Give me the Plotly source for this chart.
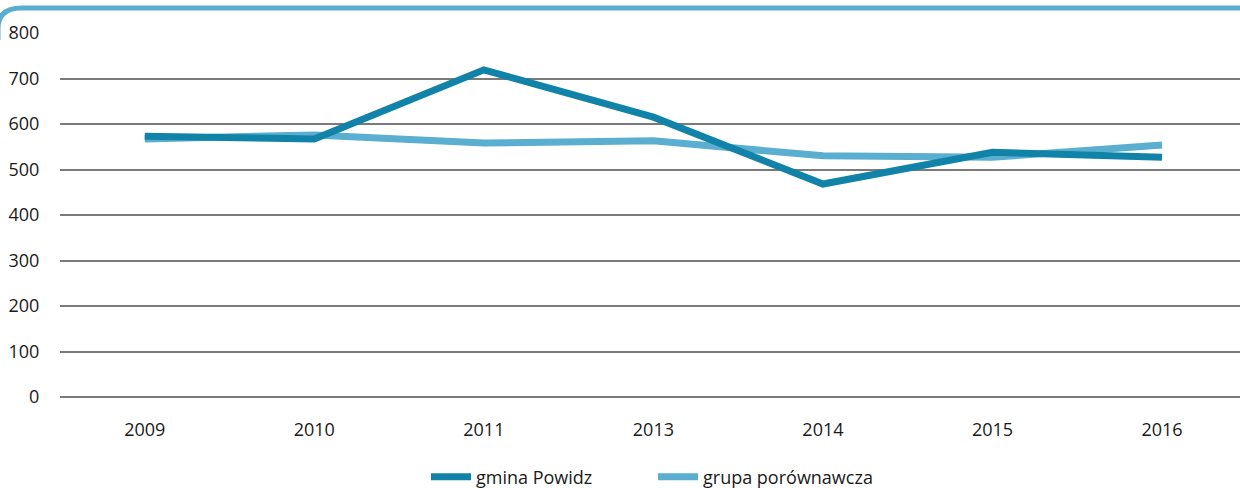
import plotly.graph_objects as go

years = ["2009", "2010", "2011", "2013", "2014", "2015", "2016"]
gmina = [573, 567, 719, 615, 468, 538, 527]
grupa = [567, 576, 558, 563, 530, 527, 554]
yticks = [0, 100, 200, 300, 400, 500, 600, 700, 800]

dark = "#1283a8"
light = "#5aaecf"

fig = go.Figure()
fig.add_trace(go.Scatter(x=years, y=grupa, mode="lines", name="grupa porównawcza",
                         line=dict(color=light, width=7)))
fig.add_trace(go.Scatter(x=years, y=gmina, mode="lines", name="gmina Powidz",
                         line=dict(color=dark, width=7)))

W, H = 1240, 488
l, r, t, b = 60, 0, 33, 91
pw, ph = W - l - r, H - t - b

def px(x):
    return (x - l) / pw

def py(y):
    return (H - b - y) / ph

path = (f"M {px(-2)},{py(40)} L {px(-2)},{py(28)} Q {px(-2)},{py(8)} {px(22)},{py(8)} "
        f"L {px(1245)},{py(8)}")

fig.update_layout(
    width=W, height=H,
    margin=dict(l=l, r=r, t=t, b=b, autoexpand=False),
    paper_bgcolor="white", plot_bgcolor="white",
    font=dict(family="Open Sans", size=18, color="#1a1a1a"),
    showlegend=True,
    legend=dict(orientation="h", x=0.5 + 3 / 1180, xanchor="center", y=-0.22,
                yanchor="middle", traceorder="reversed", font=dict(size=18),
                itemwidth=40, entrywidth=172),
    xaxis=dict(type="category", range=[-0.5, 6.46], showgrid=False, zeroline=False,
               showline=False, ticks="outside", ticklen=16, tickcolor="rgba(0,0,0,0)",
               tickfont=dict(size=18), fixedrange=True, automargin=False),
    yaxis=dict(range=[0, 800], tickvals=yticks, showgrid=True, gridcolor="#7a7a7a",
               gridwidth=1.5, zeroline=True, zerolinecolor="#7a7a7a", zerolinewidth=1.5,
               showline=False, ticks="outside", automargin=False, fixedrange=True,
               ticklen=16, tickcolor="rgba(0,0,0,0)", tickfont=dict(size=18)),
    shapes=[dict(type="path", xref="paper", yref="paper", path=path,
                 line=dict(color=light, width=5))],
)

fig.write_html("out.html", config={"displayModeBar": False},
               post_script="document.body.style.margin='0';")
